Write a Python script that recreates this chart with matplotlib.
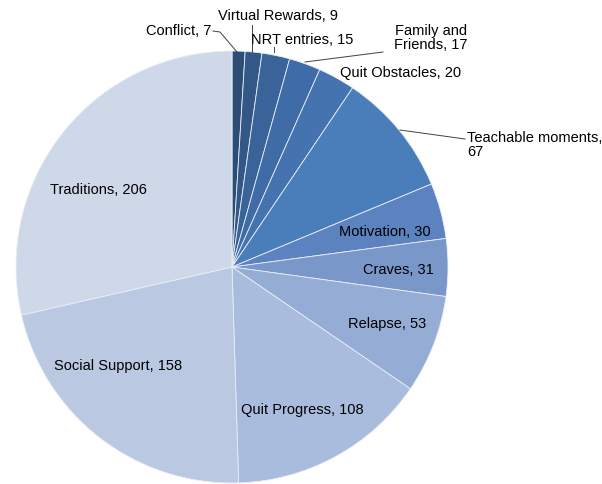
import matplotlib
matplotlib.use("Agg")
import matplotlib.pyplot as plt

categories = ["Conflict", "Virtual Rewards", "NRT entries", "Family and\nFriends",
              "Quit Obstacles", "Teachable moments,\n", "Motivation", "Craves",
              "Relapse", "Quit Progress", "Social Support", "Traditions"]
values = [7, 9, 15, 17, 20, 67, 30, 31, 53, 108, 158, 206]
colors = ["#2c4d75", "#335887", "#3a6399", "#3f6ca6", "#4473b0", "#4a7ebb",
          "#5d82c0", "#7a97c9", "#95acd5", "#a9bcdd", "#bac8e2", "#cfd8e8"]

plt.rcParams['font.family'] = ['Liberation Sans', 'DejaVu Sans']
fig = plt.figure(figsize=(6.02, 4.85), dpi=100)
W, H = 602, 485
cx, cy, R = 232, 268, 216
ax = fig.add_axes([(cx - R) / W, (H - cy - R) / H, 2 * R / W, 2 * R / H])
ax.pie(values, colors=colors, startangle=90, counterclock=False, radius=1,
       wedgeprops=dict(edgecolor="#e8eef6", linewidth=0.6))
ax.set_xlim(-1, 1)
ax.set_ylim(-1, 1)
ax.set_aspect("equal")
ax.axis("off")

def P(x, y):
    return ((x - cx) / R, (cy - y) / R)

fs = 10.5
def lab(i, pos, ha="center", va="center", line=None):
    name = categories[i]
    if name.endswith(",\n"):
        txt = name + str(values[i])
    else:
        txt = f"{name}, {values[i]}"
    ax.text(*P(*pos), txt, ha=ha, va=va, fontsize=fs, color="#000000",
            clip_on=False, linespacing=1.05)
    if line is not None:
        xs, ys = zip(*[P(*p) for p in line])
        ax.plot(xs, ys, color="#404040", lw=0.7, clip_on=False)

lab(0, (211, 31), ha="right", line=[(213, 32), (220, 33), (237, 53)])
lab(1, (278, 16), line=[(252, 26), (252, 53)])
lab(2, (302, 40), line=[(274, 48), (274, 53)])
lab(3, (467, 38), ha="right", line=[(383, 53), (305, 63)])
lab(4, (401, 73))
lab(5, (467, 145), ha="left", line=[(400, 131), (465, 140)])
lab(6, (385, 232))
lab(7, (398, 270))
lab(8, (387, 324))
lab(9, (302, 410))
lab(10, (118, 366))
lab(11, (98, 190))

fig.savefig("out.png", dpi=100)
